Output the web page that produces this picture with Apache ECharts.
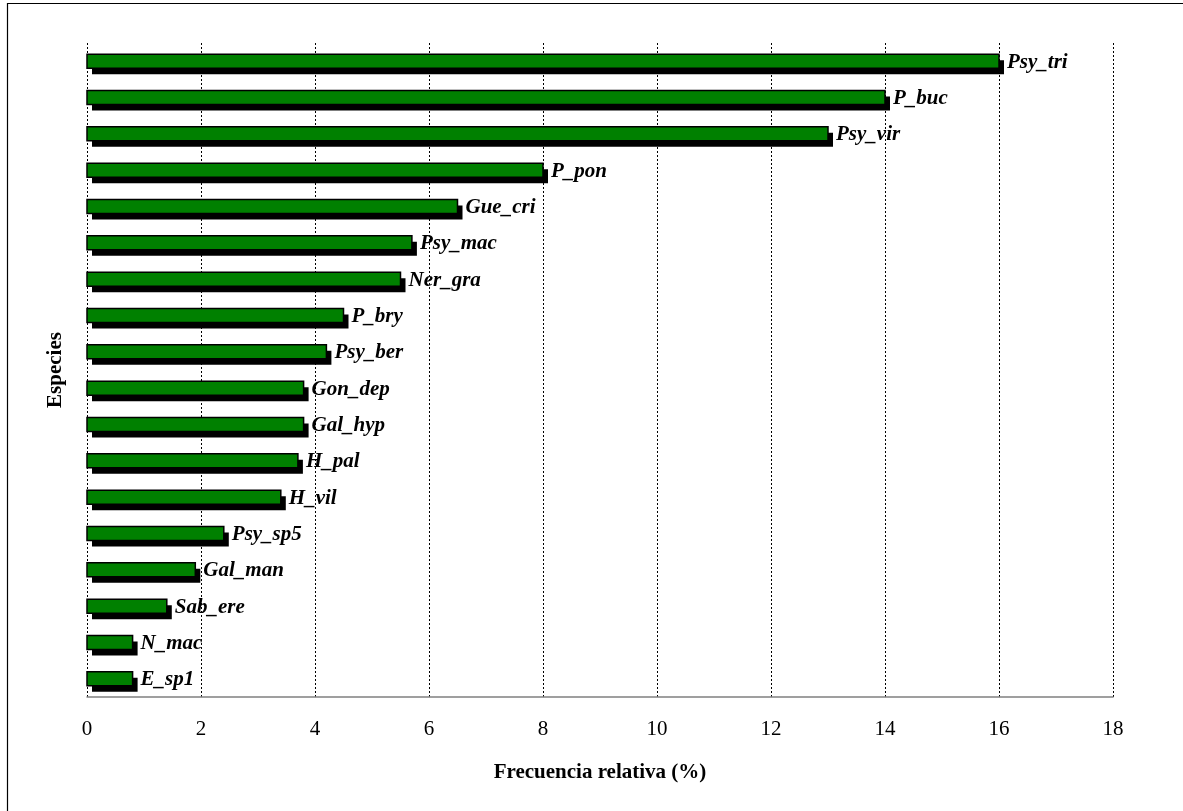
<!DOCTYPE html>
<html>
<head>
<meta charset="utf-8">
<title>Frecuencia relativa por especie</title>
<script src="https://cdn.jsdelivr.net/npm/echarts@6/dist/echarts.min.js"></script>
<style>
  html, body { margin: 0; padding: 0; background: #fff; }
  #chart { width: 1183px; height: 811px; }
</style>
</head>
<body>
<div id="chart"></div>
<script>
// Species, listed top to bottom
const species = [
  'Psy_tri', 'P_buc', 'Psy_vir', 'P_pon', 'Gue_cri', 'Psy_mac', 'Ner_gra',
  'P_bry', 'Psy_ber', 'Gon_dep', 'Gal_hyp', 'H_pal', 'H_vil', 'Psy_sp5',
  'Gal_man', 'Sab_ere', 'N_mac', 'E_sp1'
];

// Relative frequency (%) of each species
const frecuencia = [
  16, 14, 13, 8, 6.5, 5.7, 5.5,
  4.5, 4.2, 3.8, 3.8, 3.7, 3.4, 2.4,
  1.9, 1.4, 0.8, 0.8
];

// X axis range and step
const xMin = 0;
const xMax = 18;
const xStep = 2;

const serif = '"Liberation Serif", "Times New Roman", serif';

// Bar look: height, drop-shadow offset and label gap (pixels)
const barH = 14;
const shadowDX = 5;
const shadowDY = 6;
const labelGap = 8;

// Each bar: black drop shadow, green bar with black outline, italic species name
function renderBar(params, api) {
  const cat = api.value(0);
  const val = api.value(1);
  const start = api.coord([0, cat]);
  const end = api.coord([val, cat]);
  const w = end[0] - start[0];
  const y = end[1] - barH / 2;
  return {
    type: 'group',
    children: [
      {
        type: 'rect',
        shape: { x: start[0] + shadowDX, y: y + shadowDY, width: w, height: barH },
        style: { fill: '#000' }
      },
      {
        type: 'rect',
        shape: { x: start[0], y: y, width: w, height: barH },
        style: { fill: '#008000', stroke: '#000', lineWidth: 1.5 }
      },
      {
        type: 'text',
        x: end[0] + labelGap,
        y: end[1] + 1,
        style: {
          text: species[params.dataIndex],
          fontFamily: serif,
          fontWeight: 'bold',
          fontStyle: 'italic',
          fontSize: 21,
          fill: '#000',
          align: 'left',
          verticalAlign: 'middle'
        }
      }
    ]
  };
}

const chart = echarts.init(document.getElementById('chart'), null, { renderer: 'canvas' });

chart.setOption({
  backgroundColor: '#fff',
  animation: false,
  graphic: [{
    type: 'rect',
    silent: true,
    shape: { x: 7.5, y: 3.5, width: 1300, height: 1000 },
    style: { fill: 'none', stroke: '#000', lineWidth: 1.2 }
  }],
  grid: { left: 87, right: 70, top: 43, bottom: 114 },
  xAxis: {
    type: 'value',
    min: xMin,
    max: xMax,
    interval: xStep,
    name: 'Frecuencia relativa (%)',
    nameLocation: 'middle',
    nameGap: 65,
    nameTextStyle: { fontFamily: serif, fontWeight: 'bold', fontSize: 21, color: '#000' },
    axisLine: { show: true, lineStyle: { color: '#808080', width: 1.5 } },
    axisTick: { show: false },
    axisLabel: { fontFamily: serif, fontSize: 21, color: '#000', margin: 22 },
    splitLine: { show: true, lineStyle: { color: '#000', type: [2, 2], width: 1 } }
  },
  yAxis: {
    type: 'category',
    inverse: true,
    data: species,
    name: 'Especies',
    nameLocation: 'middle',
    nameGap: 21,
    nameRotate: 90,
    nameTextStyle: { fontFamily: serif, fontWeight: 'bold', fontSize: 21, color: '#000' },
    axisLine: { show: false },
    axisTick: { show: false },
    axisLabel: { show: false },
    splitLine: { show: false }
  },
  series: [{
    type: 'custom',
    renderItem: renderBar,
    encode: { x: 1, y: 0 },
    data: species.map((s, i) => [i, frecuencia[i]])
  }]
});
</script>
</body>
</html>
